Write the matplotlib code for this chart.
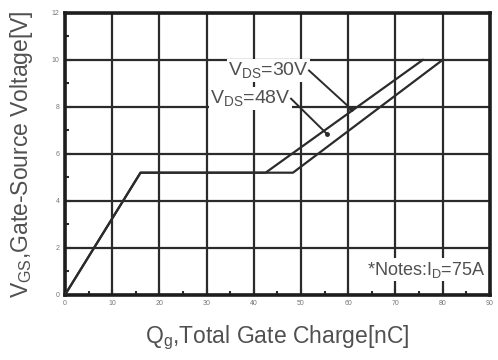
import matplotlib.pyplot as plt
from matplotlib.ticker import MultipleLocator

plt.rcParams["font.family"] = ["Liberation Sans", "DejaVu Sans"]
plt.rcParams["mathtext.fontset"] = "custom"
plt.rcParams["mathtext.rm"] = "Liberation Sans"

# gate charge curves
qg_30v = [0, 16, 42.5, 75.8]
vgs_30v = [0, 5.2, 5.2, 10]
qg_48v = [0, 16, 48.3, 80]
vgs_48v = [0, 5.2, 5.2, 10]

# label anchors and arrow tips
label_30v = (51.7, 9.55)
tip_30v = (60.7, 7.9)
label_48v = (47.9, 8.35)
tip_48v = (55.5, 6.85)

xticks = list(range(0, 100, 10))
yticks = list(range(0, 14, 2))

ink = "#2b2b2b"
grey = "#505050"

fig = plt.figure(figsize=(4.98, 3.6), dpi=100)
ax = fig.add_axes([0.1305, 0.181, 0.853, 0.783])

ax.set_xlim(0, 90)
ax.set_ylim(0, 12)
ax.set_xticks(xticks)
ax.set_yticks(yticks)
ax.xaxis.set_minor_locator(MultipleLocator(5))
ax.yaxis.set_minor_locator(MultipleLocator(1))
ax.grid(True, which="major", color=ink, linewidth=1.6)
ax.tick_params(which="both", direction="in", color=ink, width=1.5)
ax.tick_params(which="major", length=4, labelsize=5, labelcolor="#777777", pad=4)
ax.tick_params(which="minor", length=3)
for s in ax.spines.values():
    s.set_linewidth(2.6)
    s.set_color("#1e1e1e")

ax.plot(qg_30v, vgs_30v, color=ink, linewidth=1.6, zorder=3)
ax.plot(qg_48v, vgs_48v, color=ink, linewidth=1.6, zorder=3)

box = dict(facecolor="white", edgecolor="none", pad=1)
ax.text(*label_30v, r"V$_{\rm DS}$=30V", fontsize=14, color=grey,
        ha="right", va="center", bbox=box, zorder=4)
ax.text(*label_48v, r"V$_{\rm DS}$=48V", fontsize=14, color=grey,
        ha="right", va="center", bbox=box, zorder=4)
for start, tip in [(label_30v, tip_30v), (label_48v, tip_48v)]:
    ax.plot([start[0], tip[0]], [start[1], tip[1]], color=ink, linewidth=1.4, zorder=5)
    ax.plot(*tip, "o", color=ink, markersize=2.5, zorder=5)

ax.text(89, 1.07, r"*Notes:I$_{\rm D}$=75A", fontsize=13, color=grey,
        ha="right", va="center", bbox=box, zorder=4)

ax.set_xlabel(r"Q$_{\rm g}$,Total Gate Charge[nC]", fontsize=16.5, color=grey,
              labelpad=12)
ax.set_ylabel(r"V$_{\rm GS}$,Gate-Source Voltage[V]", fontsize=16.5, color=grey,
              labelpad=12)

fig.savefig("out.png", dpi=100)
